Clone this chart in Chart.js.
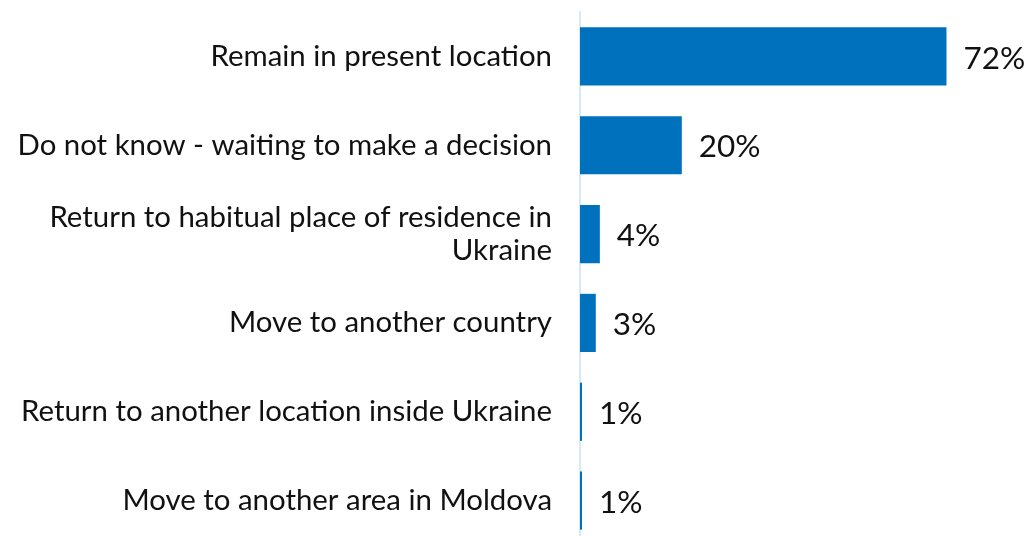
<!DOCTYPE html>
<html>
<head>
<meta charset="utf-8">
<script src="https://cdn.jsdelivr.net/npm/chart.js@4"></script>
<style>
  html, body { margin:0; padding:0; background:#fff; overflow:hidden; }
  #wrap { width:1032px; height:545px; }
</style>
</head>
<body>
<div id="wrap"><canvas id="intentChart" width="1032" height="545"></canvas></div>
<script>
const categories = [
  'Remain in present location',
  'Do not know - waiting to make a decision',
  ['Return to habitual place of residence in', 'Ukraine'],
  'Move to another country',
  'Return to another location inside Ukraine',
  'Move to another area in Moldova'
];
const shares = [72, 20, 3.9, 3.1, 0.4, 0.4];
const shareLabels = ['72%', '20%', '4%', '3%', '1%', '1%'];

// value labels at the end of each bar
const barLabels = {
  id: 'barLabels',
  afterDatasetsDraw(chart) {
    const ctx = chart.ctx;
    const meta = chart.getDatasetMeta(0);
    ctx.save();
    ctx.font = '31.5px Lato';
    ctx.fillStyle = '#111';
    ctx.textAlign = 'left';
    ctx.textBaseline = 'middle';
    meta.data.forEach((bar, i) => {
      ctx.fillText(shareLabels[i], bar.x + 17, bar.y + 2);
    });
    ctx.restore();
  }
};

new Chart(document.getElementById('intentChart'), {
  type: 'bar',
  data: {
    labels: categories,
    datasets: [{
      data: shares,
      backgroundColor: '#0071bc',
      barPercentage: 0.655,
      categoryPercentage: 1
    }]
  },
  options: {
    indexAxis: 'y',
    responsive: false,
    animation: false,
    layout: { padding: { top: 12, right: 0, left: 0, bottom: 0 } },
    plugins: { legend: { display: false }, tooltip: { enabled: false } },
    scales: {
      x: { display: false, min: 0, max: 88.8 },
      y: {
        grid: { display: false, drawTicks: false },
        border: { display: true, color: '#d4eaf9', width: 2 },
        ticks: { color: '#111', font: { family: 'Lato', size: 29.4, lineHeight: 1.15 }, padding: 28 },
        afterFit(s) { s.width = 580; s.paddingTop = 0; s.paddingBottom = 0; }
      }
    }
  },
  plugins: [barLabels]
});
</script>
</body>
</html>
